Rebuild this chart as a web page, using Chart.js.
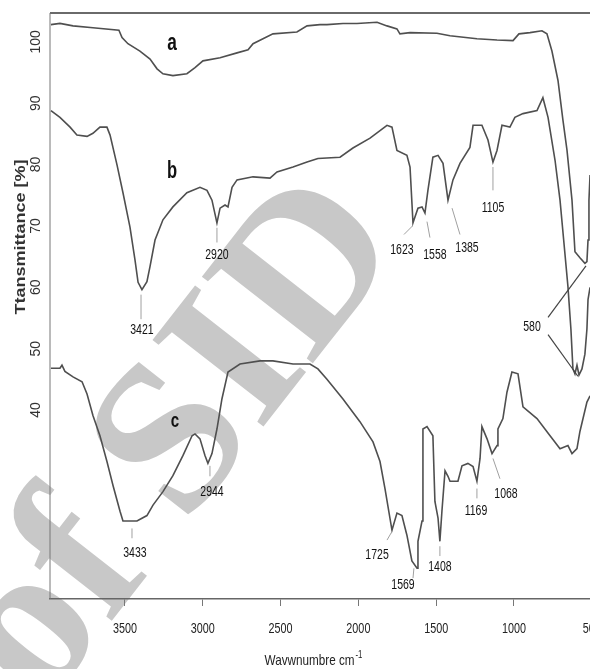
<!DOCTYPE html>
<html>
<head>
<meta charset="utf-8">
<title>FTIR spectra</title>
<script src="https://cdn.jsdelivr.net/npm/chart.js@4.4.1/dist/chart.umd.min.js"></script>
<style>
    html, body { margin: 0; padding: 0; background: #fff; overflow: hidden; }
    #wrap { width: 620px; height: 669px; }
</style>
</head>
<body>
<div id="wrap"><canvas id="irChart" width="620" height="669"></canvas></div>
<script>
// spectrum a
const waveA = [3976, 3918, 3834, 3706, 3539, 3519, 3481, 3404, 3339, 3294, 3256, 3192, 3102, 3050, 2999,
    2889, 2780, 2709, 2677, 2549, 2395, 2330, 2247, 2202, 2099, 2009, 1880, 1816, 1752, 1733,
    1668, 1495, 1411, 1238, 1109, 1006, 968, 897, 820, 788, 756, 717, 685, 659, 627,
    608, 576, 544, 531, 524, 518, 511];
const transA = [102.8, 103.0, 102.6, 102.3, 101.9, 100.7, 99.7, 98.5, 97.2, 95.6, 94.8, 94.5, 94.8, 95.8, 96.9,
    97.4, 98.2, 98.7, 99.7, 101.3, 101.6, 102.6, 102.8, 102.8, 103.0, 103.0, 103.2, 102.6, 102.1, 101.3,
    101.5, 101.4, 101.0, 100.5, 100.3, 100.2, 101.3, 101.5, 101.8, 101.3, 98.5, 93.7, 87.2, 82.3, 74.2,
    65.8, 64.8, 63.9, 64.2, 67.7, 74.2, 78.3];

// spectrum b
const waveB = [3976, 3918, 3853, 3809, 3744, 3706, 3661, 3616, 3596, 3551, 3513, 3468, 3436, 3416, 3391,
    3359, 3339, 3307, 3256, 3192, 3102, 3018, 2973, 2941, 2909, 2889, 2857, 2838, 2812, 2780,
    2677, 2568, 2523, 2420, 2330, 2260, 2118, 2035, 1925, 1816, 1784, 1752, 1688, 1668, 1649,
    1617, 1591, 1572, 1553, 1521, 1488, 1456, 1424, 1392, 1347, 1283, 1263, 1206, 1167, 1135,
    1109, 1077, 1026, 994, 942, 852, 814, 781, 736, 704, 679, 653, 634, 621, 608,
    595, 582, 563, 544, 531, 524, 511];
const transB = [88.8, 87.7, 86.1, 84.8, 84.6, 85.1, 86.1, 86.1, 84.8, 79.9, 75.4, 69.8, 64.5, 60.8, 59.6,
    60.9, 63.4, 67.7, 71.0, 73.1, 75.4, 76.3, 75.8, 74.2, 70.5, 72.9, 73.4, 73.1, 76.3, 77.5,
    78.0, 77.8, 78.8, 79.6, 80.4, 81.0, 81.2, 82.7, 84.3, 86.4, 86.1, 82.3, 81.5, 79.6, 70.5,
    72.9, 73.1, 72.1, 75.8, 81.2, 81.5, 80.2, 74.2, 77.5, 80.2, 82.8, 86.4, 86.4, 84.0, 80.4,
    82.3, 86.4, 86.1, 87.7, 88.3, 88.8, 90.9, 87.7, 80.7, 74.2, 67.3, 60.1, 53.2, 46.7, 45.9,
    47.3, 45.7, 46.7, 49.1, 53.2, 58.0, 60.0];

// spectrum c
const waveC = [3976, 3918, 3905, 3886, 3834, 3776, 3744, 3706, 3661, 3616, 3577, 3532, 3513, 3423, 3359,
    3320, 3256, 3192, 3127, 3069, 3050, 3018, 2986, 2967, 2941, 2909, 2877, 2838, 2761, 2632,
    2549, 2420, 2311, 2260, 2202, 2099, 1990, 1906, 1861, 1829, 1784, 1752, 1720, 1688, 1656,
    1623, 1617, 1591, 1585, 1559, 1521, 1508, 1488, 1476, 1463, 1443, 1424, 1411, 1360, 1334,
    1296, 1263, 1238, 1218, 1206, 1173, 1141, 1109, 1103, 1071, 1045, 1013, 974, 942, 852,
    768, 704, 653, 627, 595, 576, 531, 511];
const transC = [46.8, 46.8, 47.3, 46.3, 45.4, 44.6, 42.6, 39.1, 35.8, 31.6, 27.7, 23.5, 21.9, 21.9, 22.8,
    24.5, 26.7, 29.3, 32.6, 35.8, 36.1, 35.3, 32.6, 31.3, 32.9, 36.9, 41.8, 46.2, 47.5, 48.0,
    48.0, 47.5, 47.5, 46.7, 45.0, 41.8, 38.1, 34.8, 31.6, 27.2, 20.4, 23.2, 22.8, 19.6, 15.4,
    14.2, 18.6, 21.9, 36.9, 37.3, 35.8, 25.1, 22.4, 18.6, 23.5, 30.1, 29.2, 28.4, 28.4, 30.9,
    31.3, 30.8, 28.4, 32.1, 37.3, 35.3, 32.9, 34.2, 36.9, 38.6, 42.9, 46.2, 45.9, 40.5, 38.6,
    35.8, 33.7, 34.2, 32.9, 33.7, 36.5, 41.3, 42.3];

const xTicks = [3500, 3000, 2500, 2000, 1500, 1000, 500];
const yTicks = [100, 90, 80, 70, 60, 50, 40];

// curve letters and band labels, placed in data units
const curveNames = [
    { text: 'a', at: [3198, 99.8], size: 24 },
    { text: 'b', at: [3198, 78.8], size: 23 },
    { text: 'c', at: [3179, 38.1], size: 21 }
];
const peakNotes = [
    { text: '3421', at: [3391, 53.0], lead: [[3397, 58.8], [3397, 54.8]] },
    { text: '2920', at: [2909, 65.3], lead: [[2909, 69.7], [2909, 67.3]] },
    { text: '1623', at: [1720, 66.1], lead: [[1707, 68.6], [1652, 70.0]] },
    { text: '1558', at: [1508, 65.3], lead: [[1559, 70.7], [1540, 68.1]] },
    { text: '1385', at: [1302, 66.4], lead: [[1398, 72.9], [1347, 68.6]] },
    { text: '1105', at: [1135, 72.9], lead: [[1135, 79.6], [1135, 75.8]] },
    { text: '580', at: [884, 53.6], lead: [[781, 55.1], [537, 63.5]], dark: true },
    { text: '', at: [884, 53.6], lead: [[781, 52.3], [589, 45.5]], dark: true },
    { text: '3433', at: [3436, 16.7], lead: [[3455, 20.7], [3455, 19.1]] },
    { text: '2944', at: [2941, 26.7], lead: [[2954, 30.9], [2954, 29.2]] },
    { text: '1725', at: [1880, 16.4], lead: [[1816, 18.8], [1784, 20.2]] },
    { text: '1569', at: [1713, 11.5], lead: [[1643, 14.2], [1649, 12.6]] },
    { text: '1408', at: [1476, 14.4], lead: [[1476, 17.8], [1476, 16.2]] },
    { text: '1169', at: [1244, 23.5], lead: [[1238, 27.2], [1238, 25.6]] },
    { text: '1068', at: [1051, 26.4], lead: [[1135, 32.1], [1090, 28.8]] }
];

const ink = '#4f4f4f';
const sans = '"Liberation Sans", Arial, sans-serif';

function toPoints(xs, ys) {
    return xs.map((x, i) => ({ x: x, y: ys[i] }));
}

// text squeezed sideways, to look like the condensed face of the original
function squeezed(ctx, text, x, y, font, sx, align) {
    ctx.save();
    ctx.translate(x, y);
    ctx.scale(sx, 1);
    ctx.font = font;
    ctx.textAlign = align || 'center';
    ctx.textBaseline = 'middle';
    ctx.fillText(text, 0, 0);
    ctx.restore();
}

const decor = {
    id: 'decor',
    beforeDraw(chart) {
        // grey "of SID" watermark under the plot
        const ctx = chart.ctx;
        ctx.save();
        ctx.translate(42, 710);
        ctx.rotate(-52 * Math.PI / 180);
        ctx.font = 'bold 215px "Liberation Serif", "DejaVu Serif", serif';
        ctx.fillStyle = '#c8c8c8';
        ctx.textBaseline = 'alphabetic';
        ctx.fillText('of SID', 0, 0);
        ctx.restore();
    },
    afterDatasetsDraw(chart) {
        const ctx = chart.ctx;
        const area = chart.chartArea;
        const xs = chart.scales.x;
        const ys = chart.scales.y;

        ctx.save();
        // frame
        ctx.strokeStyle = '#6a6a6a';
        ctx.lineWidth = 2;
        ctx.beginPath();
        ctx.moveTo(area.left, area.top);
        ctx.lineTo(area.right, area.top);
        ctx.stroke();
        ctx.lineWidth = 1;
        ctx.strokeStyle = '#777';
        ctx.beginPath();
        ctx.moveTo(area.left, area.top);
        ctx.lineTo(area.left, area.bottom);
        ctx.stroke();

        // x tick labels
        ctx.fillStyle = '#222';
        xTicks.forEach(v => {
            squeezed(ctx, String(v), xs.getPixelForValue(v), 629, '15px ' + sans, 0.72);
        });

        // y tick labels, rotated
        ctx.fillStyle = '#333';
        yTicks.forEach(v => {
            ctx.save();
            ctx.translate(36, ys.getPixelForValue(v));
            ctx.rotate(-Math.PI / 2);
            ctx.font = '14px ' + sans;
            ctx.textAlign = 'center';
            ctx.textBaseline = 'middle';
            ctx.fillText(String(v), 0, 0);
            ctx.restore();
        });

        // y title, stretched along its length
        ctx.save();
        ctx.translate(21, ys.getPixelForValue(68.2));
        ctx.rotate(-Math.PI / 2);
        ctx.font = 'bold 14px ' + sans;
        const yTitle = 'Ttansmittance [%]';
        const stretch = 155 / ctx.measureText(yTitle).width;
        squeezed(ctx, yTitle, 0, 0, 'bold 14px ' + sans, stretch);
        ctx.restore();

        // x title with superscript
        ctx.fillStyle = '#222';
        const main = 'Wavwnumbre cm';
        const sx = 0.78;
        ctx.font = '15px ' + sans;
        const mainW = ctx.measureText(main).width * sx;
        ctx.font = '10px ' + sans;
        const supW = ctx.measureText('-1').width * sx;
        const tx = 313 - (mainW + supW) / 2;
        squeezed(ctx, main, tx, 661, '15px ' + sans, sx, 'left');
        squeezed(ctx, '-1', tx + mainW + 1, 655, '10px ' + sans, sx, 'left');

        // band labels with leader lines
        peakNotes.forEach(p => {
            ctx.strokeStyle = p.dark ? '#444' : '#a0a0a0';
            ctx.lineWidth = p.dark ? 1.2 : 1;
            ctx.beginPath();
            ctx.moveTo(xs.getPixelForValue(p.lead[0][0]), ys.getPixelForValue(p.lead[0][1]));
            ctx.lineTo(xs.getPixelForValue(p.lead[1][0]), ys.getPixelForValue(p.lead[1][1]));
            ctx.stroke();
            if (p.text) {
                ctx.fillStyle = '#111';
                squeezed(ctx, p.text, xs.getPixelForValue(p.at[0]), ys.getPixelForValue(p.at[1]),
                    '15px ' + sans, 0.7);
            }
        });

        // curve letters
        ctx.fillStyle = '#111';
        curveNames.forEach(c => {
            squeezed(ctx, c.text, xs.getPixelForValue(c.at[0]), ys.getPixelForValue(c.at[1]),
                'bold ' + c.size + 'px ' + sans, 0.72);
        });
        ctx.restore();
    }
};

const lineStyle = {
    showLine: true,
    borderColor: ink,
    borderWidth: 1.6,
    pointRadius: 0,
    fill: false,
    tension: 0
};

const irCtx = document.getElementById('irChart').getContext('2d');
const irChart = new Chart(irCtx, {
    type: 'scatter',
    data: {
        datasets: [
            Object.assign({ label: 'a', data: toPoints(waveA, transA) }, lineStyle),
            Object.assign({ label: 'b', data: toPoints(waveB, transB) }, lineStyle),
            Object.assign({ label: 'c', data: toPoints(waveC, transC) }, lineStyle)
        ]
    },
    options: {
        responsive: false,
        animation: false,
        devicePixelRatio: 1,
        layout: {
            padding: { left: 50, right: 20, top: 13, bottom: 0 }
        },
        plugins: {
            legend: { display: false },
            tooltip: { enabled: false }
        },
        scales: {
            x: {
                type: 'linear',
                reverse: true,
                min: 447,
                max: 3982,
                afterFit: s => { s.height = 70; },
                afterBuildTicks: s => { s.ticks = xTicks.map(v => ({ value: v })); },
                grid: {
                    drawOnChartArea: false,
                    drawTicks: true,
                    tickLength: 7,
                    color: '#777'
                },
                border: { display: true, color: '#666', width: 1.5 },
                ticks: { display: false }
            },
            y: {
                type: 'linear',
                display: false,
                min: 9.2,
                max: 104.7
            }
        }
    },
    plugins: [decor]
});
</script>
</body>
</html>
